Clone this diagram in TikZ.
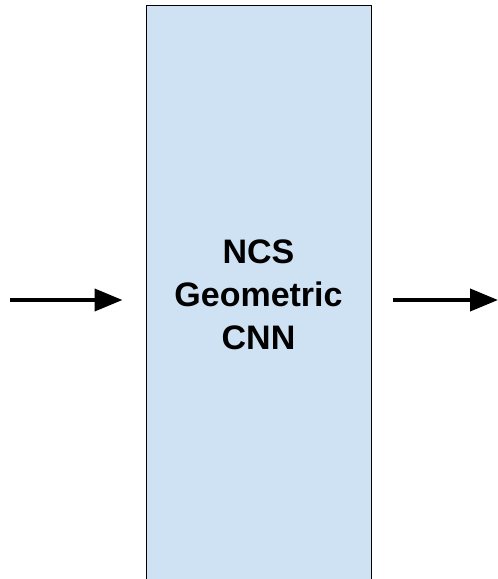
\documentclass[tikz,border=0pt]{standalone}
\usepackage{fontspec}
\setmainfont{Liberation Sans}
\usetikzlibrary{arrows.meta,positioning}
\definecolor{boxblue}{HTML}{CFE2F3}
\begin{document}
\begin{tikzpicture}[x=1pt,y=1pt,
  block/.style={draw=black,fill=boxblue,line width=1pt,minimum width=225pt,
    minimum height=579pt,align=center,inner sep=0pt,
    font=\fontsize{34}{43}\selectfont\bfseries},
  flow/.style={-{Triangle[length=28pt,width=22pt]},line width=4pt}]
 %\draw [help lines] (0,0) grid [step=50] (498,-579);
 \useasboundingbox (0,0) rectangle (498,-579);
 \node [block] (cnn) at (258.5,-295) {NCS\\Geometric\\CNN};
 \coordinate (in) at (10,-300);
 \coordinate (out) at (498,-300);
 %
 \draw [flow, shorten >=23pt] (in) -- (cnn.west |- in);
 \draw [flow, shorten <=21pt] (cnn.east |- out) -- (out);
\end{tikzpicture}
\end{document}
